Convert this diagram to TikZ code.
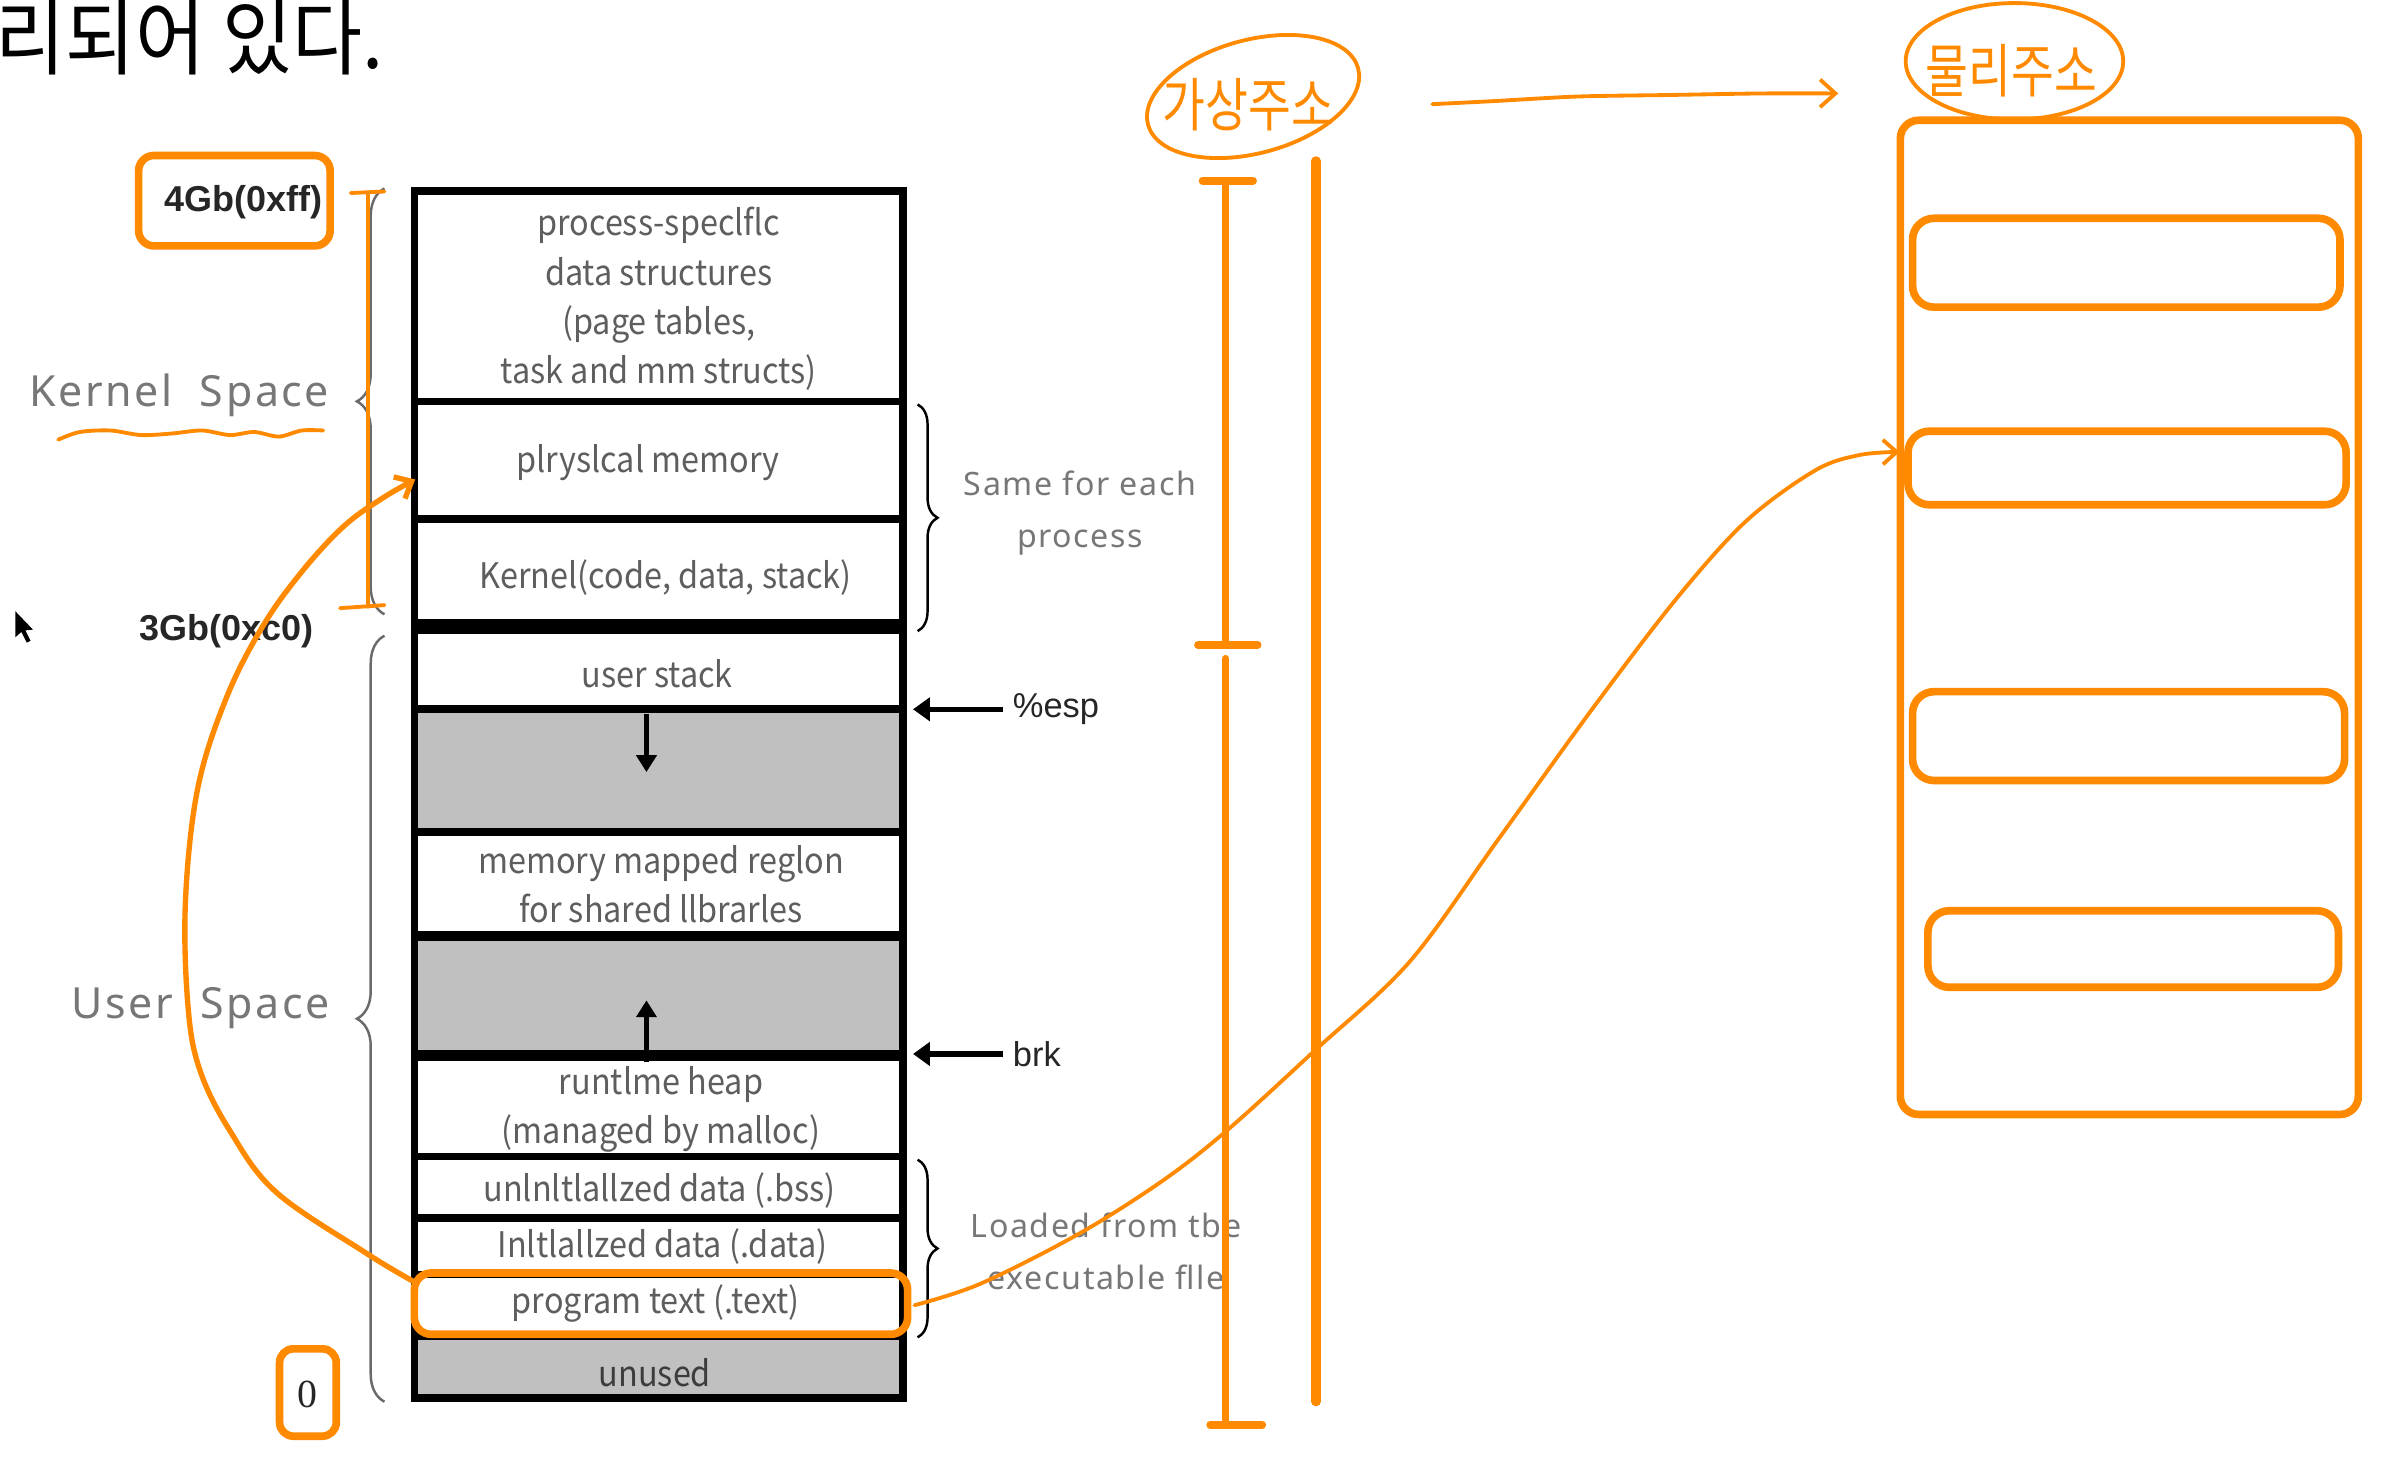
\documentclass[tikz,border=0pt]{standalone}
\usepackage{fontspec}
\setmainfont{Noto Sans CJK KR}
\newfontfamily\cellfont{Noto Sans CJK KR}[FakeStretch=0.92]
\newfontfamily\headfont{Noto Sans CJK KR}[FakeStretch=0.92]
\newfontfamily\handfont{Noto Sans CJK KR}[FakeStretch=0.8]
\newfontfamily\spacedfont{Noto Sans}[LetterSpace=6]
\newfontfamily\notefont{Noto Sans}[LetterSpace=5]
\newfontfamily\arialfont{Liberation Sans}
\newfontfamily\timesfont{Liberation Serif}
\usetikzlibrary{arrows.meta,decorations.pathreplacing}

\definecolor{hl}{HTML}{FF8A00}
\definecolor{celltext}{HTML}{5E5E5E}
\definecolor{softgray}{HTML}{777777}
\definecolor{bracegrey}{HTML}{6A6A6A}
\definecolor{bandgray}{HTML}{C0C0C0}
\definecolor{ink}{HTML}{262626}

\tikzset{
  memcell/.style={font=\cellfont\fontsize{23}{32}\selectfont, text=celltext, align=center, inner sep=0pt},
  sidenote/.style={font=\notefont\fontsize{21}{34}\selectfont, text=softgray, align=center, inner sep=0pt},
  spacelabel/.style={font=\spacedfont\fontsize{28}{34}\selectfont, text=softgray, inner sep=0pt},
  addrlabel/.style={font=\arialfont\bfseries\fontsize{23.5}{28}\selectfont, text=ink, inner sep=0pt},
  ptrlabel/.style={font=\arialfont\fontsize{22.5}{26}\selectfont, text=ink, inner sep=0pt},
  memdiv/.style={line width=5pt},
  growarrow/.style={line width=3.5pt, -{Triangle[length=11pt,width=13pt]}},
  ptrarrow/.style={line width=3.5pt, -{Triangle[length=11pt,width=15pt]}},
  bracegray/.style={draw=bracegrey, line width=1.6pt, decorate, decoration={brace, amplitude=#1}},
  braceblack/.style={draw=black, line width=1.6pt, decorate, decoration={brace, amplitude=#1}},
  hlbox/.style={draw=hl, line width=5pt, rounded corners=#1, inner sep=0pt},
  pen/.style={draw=hl, line width=#1, line cap=round, line join=round},
  handtext/.style={font=\handfont\fontsize{38}{38}\selectfont, text=hl, inner sep=0pt},
}

\begin{document}
\begin{tikzpicture}[x=1pt,y=-1pt]
\fill[white] (0,0) rectangle (1568,954);
\useasboundingbox (0,0) rectangle (1568,954);

% heading fragment
\node[anchor=base west, inner sep=0pt, font=\headfont\fontsize{54}{54}\selectfont, text=black] (heading) at (-3,45) {리되어 있다.};

% ---------- address space column ----------
\fill[bandgray] (270,463) rectangle (590,545);
\fill[bandgray] (270,610) rectangle (590,690);
\fill[bandgray] (270,872) rectangle (590,913);
\foreach \y in {262,339,463,543,755,795,832,872} \draw[memdiv] (270,\y) -- (590,\y);
\draw[line width=10pt] (270,409) -- (590,409);
\draw[line width=7pt] (270,611) -- (590,611);
\draw[line width=7pt] (270,689) -- (590,689);
\draw[line width=5pt] (270.5,124.5) rectangle (589.5,912.5);

\node[memcell] (pspec) at (430,195) {process-speclflc\\data structures\\(page tables,\\task and mm structs)};
\node[memcell] (pmem) at (423,302) {plryslcal memory};
\node[memcell] (kcode) at (434.5,377) {Kernel(code, data, stack)};
\node[memcell] (ustack) at (429,440) {user stack};
\node[memcell] (mmap) at (431.5,577) {memory mapped reglon\\for shared llbrarles};
\node[memcell] (heap) at (431.5,724) {runtlme heap\\(managed by malloc)};
\node[memcell] (bss) at (430.5,777) {unlnltlallzed data (.bss)};
\node[memcell] (data) at (432.5,814) {Inltlallzed data (.data)};
\node[memcell] (ptext) at (428,851) {program text (.text)};
\node[memcell, text=ink!90] (unused) at (427.5,896) {unused};

% growth directions
\coordinate (stackTop) at (422,466);
\coordinate (stackDir) at (422,504);
\draw[growarrow] (stackTop) -- (stackDir);
\coordinate (heapTop) at (422,693);
\coordinate (heapDir) at (422,653);
\draw[growarrow] (heapTop) -- (heapDir);

% ---------- left labels ----------
\node[hlbox=10pt, minimum width=125pt, minimum height=59pt] (topbox) at (153,131) {};
\node[addrlabel] (top) at (159,132) {4Gb(0xff)};
\node[addrlabel] (mid) at (148,412) {3Gb(0xc0)};
\node[hlbox=9pt, minimum width=37pt, minimum height=57pt] (zerobox) at (201,909) {};
\node[font=\timesfont\fontsize{26}{26}\selectfont, text=ink, inner sep=0pt] (zero) at (201,910) {0};
\node[spacelabel] (kspace) at (117,258) {Kernel\ \ Space};
\node[spacelabel] (uspace) at (131,658) {User\ \ Space};

\draw[bracegray=18pt] (251,401) -- (251,123);
\draw[bracegray=18pt] (251,915) -- (251,415);

% kernel range marker and underline
\draw[pen=2.5pt] (229,126) -- (251,125);
\draw[pen=2.5pt] (240,126) -- (240,396);
\draw[pen=2.5pt] (222,397) -- (251,395);
\draw[pen=2.5pt] plot[smooth] coordinates {(38,287) (52,282) (72,281) (92,284) (112,283) (132,281) (150,284) (166,282) (182,285) (197,281) (211,281)};

% mouse pointer
\fill[black] (10,399) -- (10,416) -- (14,412.5) -- (17.5,419.5) -- (20,418.3) -- (16.6,411.5) -- (21.5,411) -- cycle;

% ---------- right labels ----------
\draw[braceblack=13pt] (599,264) -- (599,412);
\draw[braceblack=13pt] (599,757) -- (599,873);
\node[sidenote] (same) at (705,335) {Same for each\\process};
\node[sidenote] (loaded) at (722,817) {Loaded from tbe\\executable flle};
\node[ptrlabel, anchor=west] (esp) at (661,463) {\%esp};
\node[ptrlabel, anchor=west] (brk) at (661,688) {brk};
\coordinate (espAt) at (596,463);
\coordinate (brkAt) at (596,688);
\draw[ptrarrow] ([xshift=-6pt]esp.west) -- (espAt);
\draw[ptrarrow] ([xshift=-6pt]brk.west) -- (brkAt);

% ---------- orange annotations ----------
\node[hlbox=11pt, minimum width=322pt, minimum height=40pt] (textmark) at (431.5,851) {};

% virtual address ranges
\draw[pen=5pt] (785,118) -- (818,118);
\draw[pen=5pt] (800,118) -- (800,421);
\draw[pen=5pt] (782,421) -- (821,421);
\draw[pen=5pt] (800,430) -- (800,930);
\draw[pen=5pt] (790,930) -- (824,930);
\draw[pen=6pt] (859,105) -- (859,915);

\node[handtext] (virt) at (815,68) {가상주소};
\draw[pen=2.5pt, rotate around={15:(818,63)}] (818,63) ellipse [x radius=71pt, y radius=37pt];
\node[handtext] (phys) at (1313,46) {물리주소};
\draw[pen=2.5pt] (1315,40) ellipse [x radius=71pt, y radius=38pt];
\coordinate (virtOut) at (935,68);
\coordinate (physIn) at (1200,61);
\draw[pen=2.5pt, -{Straight Barb[length=10pt,width=18pt]}] plot[smooth] coordinates {(virtOut) (975,66) (1030,63) (1090,62) (1150,61) (physIn)};

% physical memory
\node[hlbox=12pt, minimum width=299pt, minimum height=649pt] (physmem) at (1390,403) {};
\node[hlbox=14pt, minimum width=279pt, minimum height=58pt] (pm1) at (1388,171.5) {};
\node[hlbox=14pt, minimum width=286pt, minimum height=48pt] (pm2) at (1388.5,305.5) {};
\node[hlbox=14pt, minimum width=282pt, minimum height=58pt] (pm3) at (1389.5,480.5) {};
\node[hlbox=14pt, minimum width=268pt, minimum height=50pt] (pm4) at (1392.5,619.5) {};

% mappings of the program text
\coordinate (progL) at (269,836);
\coordinate (pmemL) at (271,313);
\draw[pen=3.5pt, -{Straight Barb[length=9pt,width=16pt]}] plot[smooth, tension=0.6] coordinates {(progL) (239,818) (180,778) (150,738) (131,700) (123,660) (121,590) (129,515) (148,455) (172,408) (198,372) (225,343) (250,325) (pmemL)};
\coordinate (progR) at (597,852);
\coordinate (pm2In) at (1240,295);
\draw[pen=2.5pt, -{Straight Barb[length=9pt,width=16pt]}] plot[smooth, tension=0.55] coordinates {(progR) (640,838) (705,805) (760,770) (802,737) (858,686) (920,628) (978,548) (1040,462) (1095,390) (1140,340) (1185,307) (1214,297) (pm2In)};
\end{tikzpicture}
\end{document}
